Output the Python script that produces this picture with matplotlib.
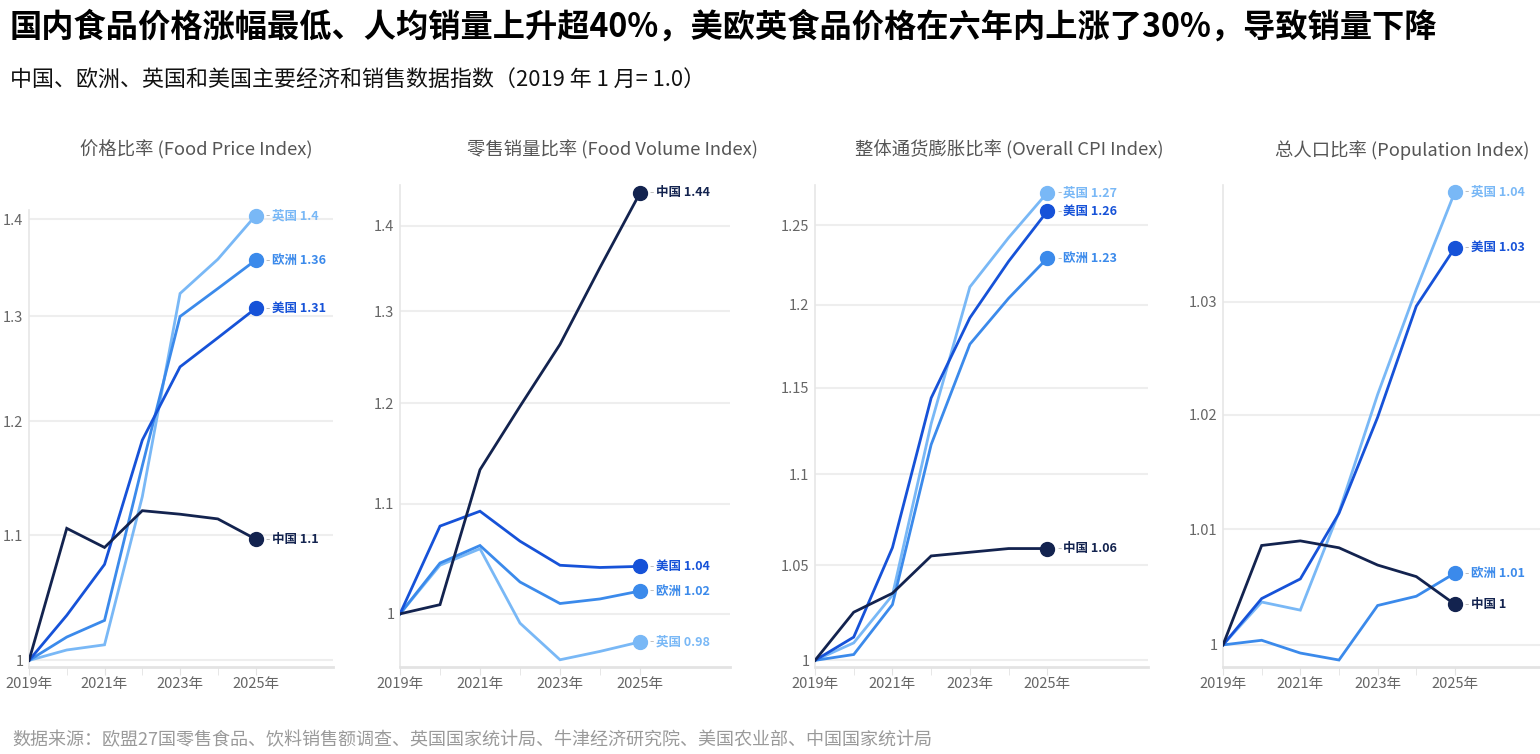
import numpy as np
import matplotlib
matplotlib.use("Agg")
import matplotlib.pyplot as plt
from matplotlib.ticker import FixedLocator, NullLocator, FuncFormatter

plt.rcParams['font.family'] = ['Noto Sans CJK SC', 'DejaVu Sans']

# 数据（2019 年 1 月 = 1.0）
years = [2019, 2020, 2021, 2022, 2023, 2024, 2025]
regions = ['中国', '美国', '欧洲', '英国']

price_cn = [1.0, 1.106, 1.090, 1.121, 1.118, 1.114, 1.097]
price_us = [1.0, 1.035, 1.076, 1.183, 1.251, 1.279, 1.308]
price_eu = [1.0, 1.018, 1.031, 1.160, 1.300, 1.328, 1.357]
price_uk = [1.0, 1.008, 1.012, 1.133, 1.323, 1.358, 1.404]

vol_cn = [1.0, 1.008, 1.133, 1.197, 1.263, 1.350, 1.440]
vol_us = [1.0, 1.079, 1.093, 1.065, 1.043, 1.041, 1.042]
vol_eu = [1.0, 1.045, 1.061, 1.028, 1.009, 1.013, 1.020]
vol_uk = [1.0, 1.043, 1.058, 0.992, 0.961, 0.968, 0.976]

cpi_cn = [1.0, 1.025, 1.035, 1.055, 1.057, 1.059, 1.059]
cpi_us = [1.0, 1.012, 1.0595, 1.144, 1.192, 1.227, 1.259]
cpi_eu = [1.0, 1.003, 1.029, 1.117, 1.176, 1.204, 1.229]
cpi_uk = [1.0, 1.009, 1.034, 1.129, 1.211, 1.242, 1.271]

pop_cn = [1.0, 1.0086, 1.0090, 1.0084, 1.0069, 1.0059, 1.0035]
pop_us = [1.0, 1.0040, 1.0057, 1.0114, 1.0198, 1.0296, 1.0348]
pop_eu = [1.0, 1.0004, 0.9993, 0.9987, 1.0034, 1.0042, 1.0062]
pop_uk = [1.0, 1.0037, 1.0030, 1.0115, 1.0218, 1.0311, 1.0398]

titles = ['价格比率 (Food Price Index)', '零售销量比率 (Food Volume Index)',
          '整体通货膨胀比率 (Overall CPI Index)', '总人口比率 (Population Index)']
yticks_list = [[1.0, 1.1, 1.2, 1.3, 1.4],
               [1.0, 1.1, 1.2, 1.3, 1.4],
               [1.0, 1.05, 1.1, 1.15, 1.2, 1.25],
               [1.0, 1.01, 1.02, 1.03]]

colors = {'中国': '#13234f', '美国': '#1652d8', '欧洲': '#3b8aeb', '英国': '#79b8f6'}

panels = [
    {'中国': price_cn, '美国': price_us, '欧洲': price_eu, '英国': price_uk},
    {'中国': vol_cn, '美国': vol_us, '欧洲': vol_eu, '英国': vol_uk},
    {'中国': cpi_cn, '美国': cpi_us, '欧洲': cpi_eu, '英国': cpi_uk},
    {'中国': pop_cn, '美国': pop_us, '欧洲': pop_eu, '英国': pop_uk},
]

W, H = 1540, 754
fig = plt.figure(figsize=(W / 100, H / 100), dpi=100)

# 坐标轴位置 (像素): left, right, top, bottom
boxes = [(29, 333, 210, 667), (400, 730, 185, 667), (815, 1148, 185, 667), (1223, 1540, 185, 667)]
xlims = [(2019, 2027.05), (2019, 2027.25), (2019, 2027.6), (2019, 2027.2)]
ylims = [(0.995, 1.41), (0.955, 1.45), (0.9966, 1.276), (0.9981, 1.0404)]
title_x = [196, 612, 1009, 1402]

for i, data in enumerate(panels):
    l, r, t, b = boxes[i]
    ax = fig.add_axes([l / W, 1 - b / H, (r - l) / W, (b - t) / H])
    ax.set_yscale('log')
    ax.set_xlim(*xlims[i])
    ax.set_ylim(*ylims[i])

    for name in ['英国', '欧洲', '美国', '中国']:
        vals = data[name]
        c = colors[name]
        ax.plot(years, vals, color=c, lw=2.0, solid_joinstyle='miter', zorder=3)
        ax.plot(years[-1], vals[-1], 'o', color=c, ms=10, zorder=4, clip_on=False)
        lab = f"{round(vals[-1], 2):g}"
        ax.annotate('-', (years[-1], vals[-1]), xytext=(7, 0), textcoords='offset points',
                    va='center', ha='left', color='#bbbbbb', fontsize=9)
        ax.annotate(f"{name} {lab}", (years[-1], vals[-1]), xytext=(11.5, 0),
                    textcoords='offset points', va='center', ha='left',
                    color=c, fontsize=9, fontweight='bold')

    ax.yaxis.set_major_locator(FixedLocator(yticks_list[i]))
    ax.yaxis.set_minor_locator(NullLocator())
    ax.yaxis.set_major_formatter(FuncFormatter(lambda v, p: f"{v:g}"))
    ax.set_xticks([2019, 2021, 2023, 2025])
    ax.set_xticklabels(['2019年', '2021年', '2023年', '2025年'])
    ax.set_xticks([2020, 2022, 2024], minor=True)

    ax.grid(axis='y', color='#eeeeee', lw=1.5, zorder=0)
    for s in ['top', 'right']:
        ax.spines[s].set_visible(False)
    ax.spines['left'].set_color('#e6e6e6')
    ax.spines['left'].set_linewidth(1.2)
    ax.spines['bottom'].set_color('#e3e3e3')
    ax.spines['bottom'].set_linewidth(2)
    ax.tick_params(axis='y', length=0, labelsize=10.5, labelcolor='#666666', pad=4)
    ax.tick_params(axis='x', which='major', length=6, color='#e3e3e3', labelsize=10.5,
                   labelcolor='#666666', pad=1)
    ax.tick_params(axis='x', which='minor', length=6, color='#e3e3e3')
    ax.set_facecolor('none')
    fig.text(title_x[i] / W, 1 - 150 / H, titles[i], ha='center', va='center',
             fontsize=13.2, color='#555555')

fig.text(10 / W, 1 - 27 / H,
         '国内食品价格涨幅最低、人均销量上升超40%，美欧英食品价格在六年内上涨了30%，导致销量下降',
         ha='left', va='center', fontsize=23.2, fontweight='bold', color='#000000')
fig.text(10 / W, 1 - 80 / H, '中国、欧洲、英国和美国主要经济和销售数据指数（2019 年 1 月= 1.0）',
         ha='left', va='center', fontsize=15.8, color='#111111')
fig.text(12 / W, 1 - 740 / H,
         '数据来源：欧盟27国零售食品、饮料销售额调查、英国国家统计局、牛津经济研究院、美国农业部、中国国家统计局',
         ha='left', va='center', fontsize=13, color='#9a9a9a')

fig.savefig('out.png', dpi=100)
